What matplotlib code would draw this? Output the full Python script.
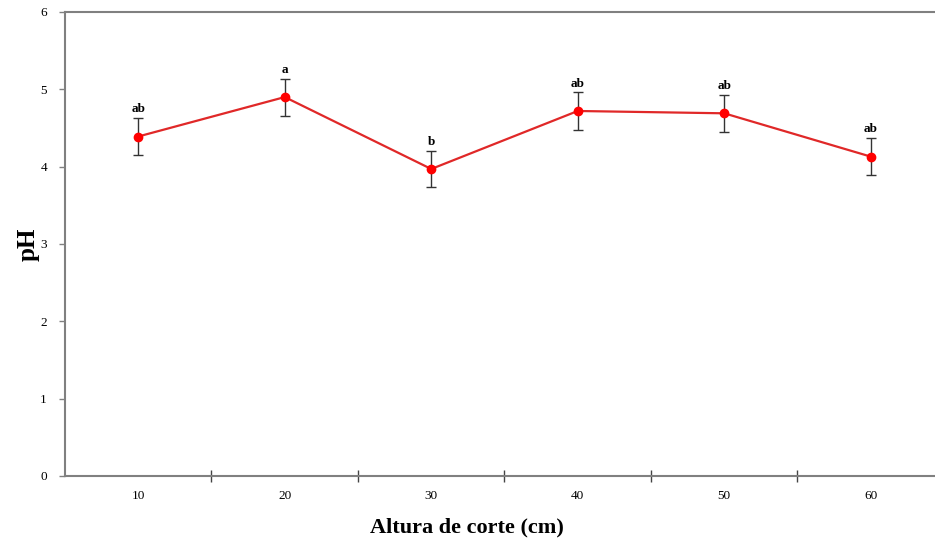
import matplotlib.pyplot as plt
import numpy as np

plt.rcParams['font.family'] = ['Liberation Serif', 'DejaVu Serif']

alturas = ['10', '20', '30', '40', '50', '60']
ph = [4.39, 4.90, 3.97, 4.72, 4.69, 4.13]
erro = [0.24, 0.24, 0.23, 0.24, 0.24, 0.24]
letras = ['ab', 'a', 'b', 'ab', 'ab', 'ab']

W, H = 935, 543
fig = plt.figure(figsize=(W / 100, H / 100), dpi=100)
# plot area runs a bit past the right edge of the picture
ax = fig.add_axes([65 / W, 67 / H, 879 / W, 464 / H])

x = np.arange(1, len(alturas) + 1)
ax.errorbar(x, ph, yerr=erro, fmt='none', ecolor='#333333', elinewidth=1,
            capsize=3.5, capthick=1, zorder=2)
ax.plot(x, ph, color='#e02828', lw=1.6, zorder=3)
ax.plot(x, ph, 'o', color='#ff0000', ms=6, zorder=4)

for xi, yi, ei, l in zip(x, ph, erro, letras):
    ax.annotate(l, (xi, yi + ei), xytext=(0, 2), textcoords='offset points',
                ha='center', va='bottom', fontsize=9.5, fontweight='bold')

ax.set_xlim(0.5, len(alturas) + 0.5)
ax.set_ylim(0, 6)
ax.set_yticks(range(0, 7))
ax.tick_params(axis='y', direction='out', length=4, width=1, color='#808080',
               labelsize=9.5, pad=9)

# category axis: ticks between groups, labels at centers
ax.set_xticks(np.arange(1.5, len(alturas), 1.0))
ax.set_xticklabels([])
ax.set_xticks(x, minor=True)
ax.set_xticklabels(alturas, minor=True)
ax.tick_params(axis='x', which='major', direction='inout', length=9, width=1,
               color='#444444')
ax.tick_params(axis='x', which='minor', length=0, labelsize=9.5, pad=10)

for s in ['left', 'bottom', 'top']:
    ax.spines[s].set_color('#808080')
    ax.spines[s].set_linewidth(1.5)
ax.spines['right'].set_visible(False)

ax.set_xlabel('Altura de corte (cm)', fontsize=16, fontweight='bold')
ax.set_ylabel('pH', fontsize=18, fontweight='bold')
ax.xaxis.set_label_coords(402 / 879, -41 / 464)
ax.yaxis.set_label_coords(-25 / 879, 0.5)

fig.savefig('out.png', dpi=100)
